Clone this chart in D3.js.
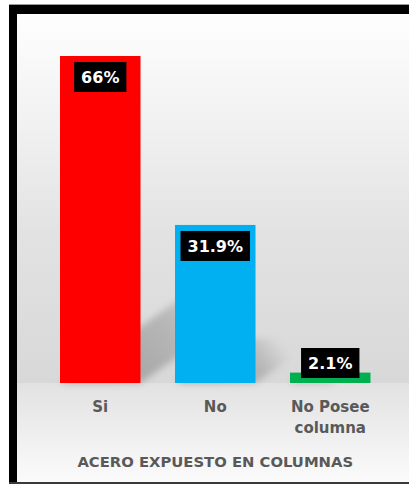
<!DOCTYPE html>
<html>
<head>
<meta charset="utf-8">
<script src="https://cdn.jsdelivr.net/npm/d3@7"></script>
<style>
  html, body { margin: 0; padding: 0; background: #ffffff; }
  svg { display: block; }
</style>
</head>
<body>
<svg id="chart" width="409" height="486"></svg>
<script>
// Chart data
const categories = ["Si", "No", "No Posee columna"];
const values = [66, 31.9, 2.1];
const valueLabels = ["66%", "31.9%", "2.1%"];
const barColors = ["#ff0000", "#00b0f0", "#00b050"];
const chartTitle = "ACERO EXPUESTO EN COLUMNAS";

const W = 409, H = 486;
const baseY = 383;
const svg = d3.select("#chart");
const defs = svg.append("defs");

// Frame backgrounds: plot area fades to grey, floor below the axis fades back to white
const bgTop = defs.append("linearGradient").attr("id", "bgTop")
  .attr("x1", 0).attr("y1", 0).attr("x2", 0).attr("y2", 1);
[[0, "#fefefe"], [0.3, "#f1f1f1"], [0.6, "#e2e2e2"], [1, "#d8d8d8"]]
  .forEach(([o, c]) => bgTop.append("stop").attr("offset", o).attr("stop-color", c));
const bgBot = defs.append("linearGradient").attr("id", "bgBot")
  .attr("x1", 0).attr("y1", 0).attr("x2", 0).attr("y2", 1);
[[0, "#e2e2e2"], [0.5, "#eeeeee"], [1, "#fbfbfb"]]
  .forEach(([o, c]) => bgBot.append("stop").attr("offset", o).attr("stop-color", c));

svg.append("rect").attr("x", 17).attr("y", 14).attr("width", W - 17).attr("height", baseY - 14)
  .attr("fill", "url(#bgTop)");
svg.append("rect").attr("x", 17).attr("y", baseY).attr("width", W - 17).attr("height", 482 - baseY)
  .attr("fill", "url(#bgBot)");

// Scales
const x = d3.scaleBand().domain(categories).range([42.75, 387.75])
  .paddingInner(0.3).paddingOuter(0.15);
const y = d3.scaleLinear().domain([0, 66]).range([baseY, 56]);

// Perspective shadows cast toward the upper right
const blur = defs.append("filter").attr("id", "shBlur")
  .attr("x", "-30%").attr("y", "-30%").attr("width", "160%").attr("height", "160%");
blur.append("feGaussianBlur").attr("stdDeviation", 3.5);

const slope = 0.7;
const shadowG = svg.append("g").attr("filter", "url(#shBlur)");
categories.forEach((c, i) => {
  const x0 = x(c), x1 = x(c) + x.bandwidth();
  const h = baseY - y(values[i]);
  const L = 0.4 * h;
  const gid = "shGrad" + i;
  const g = defs.append("linearGradient").attr("id", gid)
    .attr("gradientUnits", "userSpaceOnUse")
    .attr("x1", (x0 + x1) / 2).attr("y1", baseY)
    .attr("x2", (x0 + x1) / 2 + L).attr("y2", baseY - slope * L);
  g.append("stop").attr("offset", 0).attr("stop-color", "#000").attr("stop-opacity", 0.26);
  g.append("stop").attr("offset", 0.6).attr("stop-color", "#000").attr("stop-opacity", 0.16);
  g.append("stop").attr("offset", 1).attr("stop-color", "#000").attr("stop-opacity", 0);
  shadowG.append("path")
    .attr("d", d3.line()([
      [x0, baseY], [x1, baseY],
      [x1 + L, baseY - slope * L], [x0 + L, baseY - slope * L]
    ]) + "Z")
    .attr("fill", `url(#${gid})`);
});

// Bars
svg.append("g").selectAll("rect").data(values).join("rect")
  .attr("x", (d, i) => x(categories[i]))
  .attr("y", d => y(d))
  .attr("width", x.bandwidth())
  .attr("height", d => baseY - y(d))
  .attr("fill", (d, i) => barColors[i]);

// Value labels: white text on black boxes near the top of each bar
const labelFont = "'DejaVu Sans', sans-serif";
const lab = svg.append("g").selectAll("g").data(values).join("g")
  .attr("transform", (d, i) => {
    const cx = x(categories[i]) + x.bandwidth() / 2;
    const cy = Math.min(y(d) + 21, baseY - 20);
    return `translate(${cx},${cy})`;
  });
lab.append("rect").attr("fill", "#000");
lab.append("text")
  .attr("text-anchor", "middle")
  .attr("y", 6)
  .attr("fill", "#ffffff")
  .attr("font-family", labelFont)
  .attr("font-weight", "bold")
  .attr("font-size", 16)
  .text((d, i) => valueLabels[i]);
lab.each(function () {
  const t = d3.select(this).select("text").node();
  const w = t.getComputedTextLength() + 14;
  d3.select(this).select("rect")
    .attr("x", -w / 2).attr("y", -15).attr("width", w).attr("height", 30);
});

// Category axis (no line, no ticks), labels wrapped to the band width
const axis = svg.append("g").attr("transform", `translate(0,${baseY})`)
  .call(d3.axisBottom(x).tickSize(0).tickPadding(0));
axis.select(".domain").remove();
axis.selectAll(".tick text")
  .attr("font-family", labelFont)
  .attr("font-weight", "bold")
  .attr("font-size", 15)
  .attr("fill", "#595959")
  .attr("dy", null)
  .attr("y", 29)
  .each(function (d) {
    const text = d3.select(this);
    const words = d.split(" ");
    text.text(null);
    let line = [];
    let lineNo = 0;
    let tspan = text.append("tspan").attr("x", 0).attr("y", 29);
    words.forEach(wd => {
      line.push(wd);
      tspan.text(line.join(" "));
      if (tspan.node().getComputedTextLength() > x.bandwidth() && line.length > 1) {
        line.pop();
        tspan.text(line.join(" "));
        line = [wd];
        lineNo++;
        tspan = text.append("tspan").attr("x", 0).attr("y", 29 + lineNo * 21).text(wd);
      }
    });
  });

// Axis title
svg.append("text")
  .attr("x", x.range()[0] + (x.range()[1] - x.range()[0]) / 2)
  .attr("y", 467)
  .attr("text-anchor", "middle")
  .attr("font-family", labelFont)
  .attr("font-weight", "bold")
  .attr("font-size", 14.8)
  .attr("fill", "#595959")
  .text(chartTitle);

// Black frame: thick top and left edges, thin bottom edge
svg.append("rect").attr("x", 9).attr("y", 5).attr("width", W - 9).attr("height", 9).attr("fill", "#000");
svg.append("rect").attr("x", 9).attr("y", 5).attr("width", 8).attr("height", 479).attr("fill", "#000");
svg.append("rect").attr("x", 9).attr("y", 482).attr("width", W - 9).attr("height", 2).attr("fill", "#3a3a3a");
svg.append("line").attr("x1", 9).attr("x2", W).attr("y1", 4.5).attr("y2", 4.5)
  .attr("stroke", "#9a9a9a").attr("stroke-width", 1);
</script>
</body>
</html>
